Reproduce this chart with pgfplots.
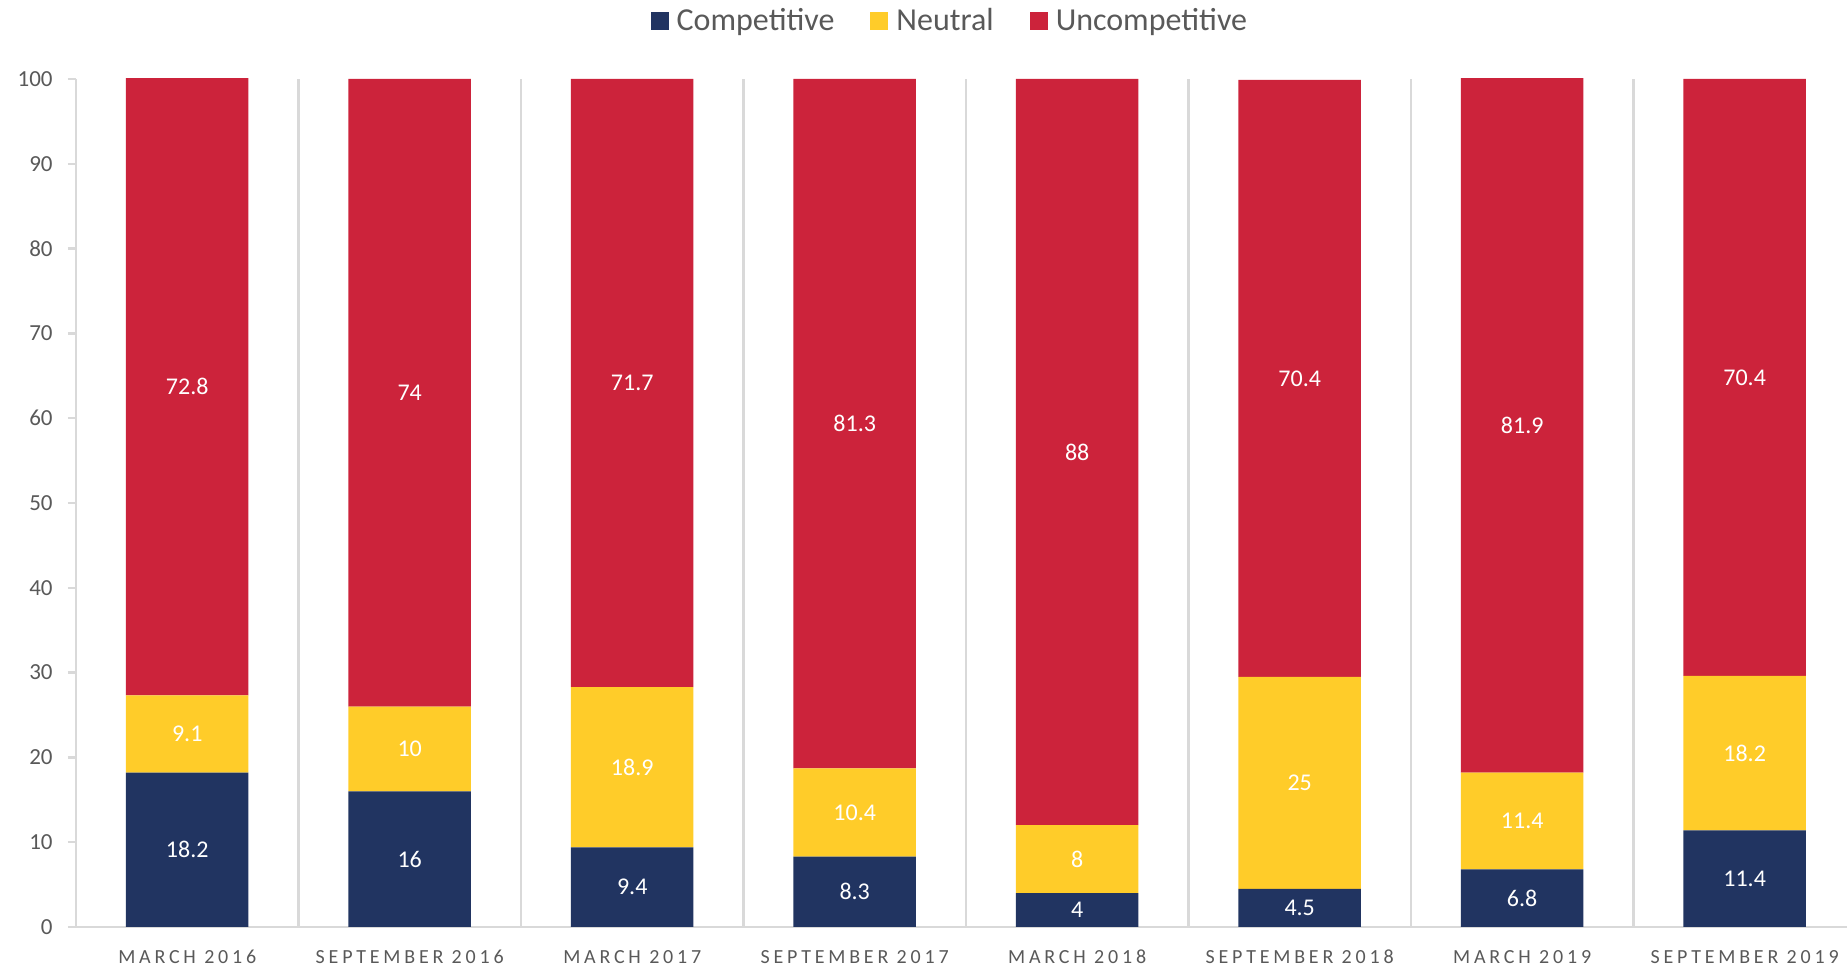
\documentclass[border=0pt]{standalone}
\usepackage{pgfplots}
\pgfplotsset{compat=1.18}
\usepackage{pgfplotstable}
\usepackage{fontspec}
\setmainfont{Carlito}
\newfontfamily\spaced[LetterSpace=19]{Carlito}
\definecolor{navy}{HTML}{213461}
\definecolor{gold}{HTML}{FFCC29}
\definecolor{crim}{HTML}{CC233B}
\definecolor{txt}{HTML}{595959}
\definecolor{gridc}{HTML}{D9D9D9}
\pgfplotstableread{
x comp neut unc
0 18.2 9.1 72.8
1 16 10 74
2 9.4 18.9 71.7
3 8.3 10.4 81.3
4 4 8 88
5 4.5 25 70.4
6 6.8 11.4 81.9
7 11.4 18.2 70.4
}\data
\pgfplotsset{
  common/.style={
    at={(0,0)}, anchor=south west,
    scale only axis, width=885.5pt, height=424pt,
    /pgf/number format/assume math mode=true,
    xmin=-0.5, xmax=7.46, ymin=0, ymax=100,
    enlargelimits=false,
  }
}
\begin{document}
\begin{tikzpicture}
\begin{axis}[
  common,
  ybar stacked, bar width=61.25pt,
  axis x line=bottom, axis y line=left,
  axis line style={draw=gridc, line width=1.2pt, -},
  xtick={0,...,7},
  xticklabels={MARCH 2016, SEPTEMBER 2016, MARCH 2017, SEPTEMBER 2017, MARCH 2018, SEPTEMBER 2018, MARCH 2019, SEPTEMBER 2019},
  x tick style={draw=none},
  minor xtick={0.5,1.5,...,6.5},
  xminorgrids, minor grid style={draw=gridc, line width=1.2pt},
  minor tick length=0pt,
  ytick={0,10,...,100},
  y tick style={draw=gridc, line width=1.2pt},
  tick align=outside, major tick length=4pt,
  tick label style={text=txt},
  yticklabel style={font=\fontsize{11.5}{13}\selectfont, anchor=east, inner sep=0pt, xshift=-7.5pt},
  xticklabel style={font=\spaced\fontsize{10}{12}\selectfont, anchor=base, yshift=-14.5pt},
  legend style={at={(0.494,1.0684)}, anchor=center, draw=none, fill=none, legend columns=3, font=\fontsize{16}{19}\selectfont, text=txt, /tikz/every even column/.append style={column sep=16pt}, nodes={inner sep=2pt}, cells={anchor=west}},
  legend image code/.code={\draw[#1,draw=none] (0pt,-4.5pt) rectangle (9pt,4.5pt);},
]
\addplot[fill=navy, draw=none] table[x=x, y=comp] {\data};
\addplot[fill=gold, draw=none] table[x=x, y=neut] {\data};
\addplot[fill=crim, draw=none] table[x=x, y=unc] {\data};
\legend{\hspace{2pt}Competitive,\hspace{2pt}Neutral,\hspace{2pt}Uncompetitive}
\end{axis}
\begin{axis}[
  common, hide axis, clip=false,
  point meta=explicit,
  nodes near coords={\pgfmathprintnumber{\pgfplotspointmeta}},
  every node near coord/.append style={font=\fontsize{12}{14}\selectfont, text=white, anchor=center},
]
\addplot[only marks, mark=none] table[x=x, y expr={\thisrow{comp}/2}, meta=comp] {\data};
\addplot[only marks, mark=none] table[x=x, y expr={\thisrow{comp}+\thisrow{neut}/2}, meta=neut] {\data};
\addplot[only marks, mark=none] table[x=x, y expr={\thisrow{comp}+\thisrow{neut}+\thisrow{unc}/2}, meta=unc] {\data};
\end{axis}
\pgfresetboundingbox
\path[use as bounding box] (-38pt,-20pt) rectangle (885.5pt,463.5pt);
\end{tikzpicture}
\end{document}
